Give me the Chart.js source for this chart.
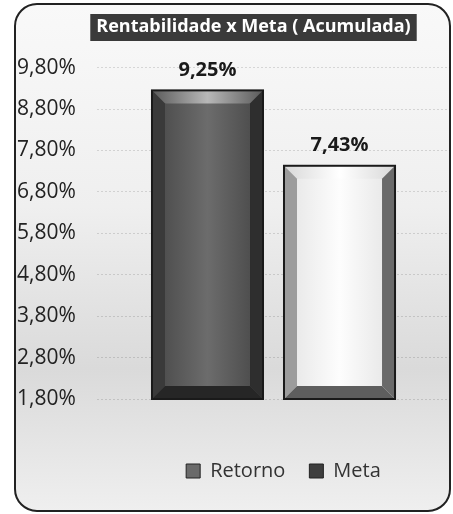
<!DOCTYPE html>
<html>
<head>
<meta charset="utf-8">
<script src="https://cdn.jsdelivr.net/npm/chart.js@4.4.0/dist/chart.umd.min.js"></script>
<style>
  html, body { margin: 0; padding: 0; background: #fff; }
  #wrap { width: 453px; height: 514px; }
</style>
</head>
<body>
<div id="wrap"><canvas id="chart" width="453" height="514"></canvas></div>
<script>
const titleText = 'Rentabilidade x Meta ( Acumulada)';
const categories = [''];
const seriesNames = ['Retorno', 'Meta'];
const retornoValues = [9.25];
const metaValues = [7.43];
const yMin = 1.8;
const yMax = 9.8;
const yStep = 1;

const fmt = v => v.toFixed(2).replace('.', ',') + '%';

// rounded frame + gradient background + dark box behind the title
const framePlugin = {
  id: 'frame',
  afterLayout(chart) {
    // the original centres title and legend a bit right of the canvas centre
    chart.titleBlock.left += 40;
    chart.legend.left += 100;
  },
  beforeDraw(chart) {
    const ctx = chart.ctx;
    const x = 15, y = 4, w = chart.width - 18, h = chart.height - 7, r = 22;
    ctx.save();
    const g = ctx.createLinearGradient(0, y, 0, y + h);
    g.addColorStop(0, '#f9f9f9');
    g.addColorStop(0.4, '#efefef');
    g.addColorStop(0.72, '#dadada');
    g.addColorStop(1, '#efefef');
    ctx.beginPath();
    ctx.roundRect(x, y, w, h, r);
    ctx.fillStyle = g;
    ctx.fill();
    ctx.lineWidth = 2;
    ctx.strokeStyle = '#222';
    ctx.stroke();

    const tb = chart.titleBlock;
    const f = chart.options.plugins.title.font;
    ctx.font = f.weight + ' ' + f.size + 'px "' + f.family + '"';
    const tw = ctx.measureText(titleText).width;
    const cx = (tb.left + tb.right) / 2;
    ctx.fillStyle = '#3a3a3a';
    ctx.fillRect(cx - tw / 2 - 6, tb.top + 14, tw + 12, 27);
    ctx.restore();
  }
};

// bevel faces and value labels drawn from the bar elements
const bevelPlugin = {
  id: 'bevel',
  afterDatasetsDraw(chart) {
    const ctx = chart.ctx;
    chart.data.datasets.forEach((ds, di) => {
      const meta = chart.getDatasetMeta(di);
      meta.data.forEach((bar, i) => {
        const l = bar.x - bar.width / 2, rgt = bar.x + bar.width / 2;
        const t = bar.y, b = Math.min(bar.base, chart.chartArea.bottom), d = 13;
        const dark = di === 0;
        ctx.save();
        // front face
        let g = ctx.createLinearGradient(l, 0, rgt, 0);
        if (dark) { g.addColorStop(0, '#474747'); g.addColorStop(0.5, '#6c6c6c'); g.addColorStop(1, '#464646'); }
        else { g.addColorStop(0, '#e4e4e4'); g.addColorStop(0.5, '#fdfdfd'); g.addColorStop(1, '#e4e4e4'); }
        ctx.fillStyle = g;
        ctx.fillRect(l, t, rgt - l, b - t);
        // top face
        ctx.beginPath();
        ctx.moveTo(l, t); ctx.lineTo(rgt, t); ctx.lineTo(rgt - d, t + d); ctx.lineTo(l + d, t + d); ctx.closePath();
        g = ctx.createLinearGradient(l, 0, rgt, 0);
        if (dark) { g.addColorStop(0, '#5a5a5a'); g.addColorStop(0.5, '#b8b8b8'); g.addColorStop(1, '#5a5a5a'); }
        else { g.addColorStop(0, '#d8d8d8'); g.addColorStop(0.5, '#ffffff'); g.addColorStop(1, '#d8d8d8'); }
        ctx.fillStyle = g; ctx.fill();
        // left face
        ctx.beginPath();
        ctx.moveTo(l, t); ctx.lineTo(l + d, t + d); ctx.lineTo(l + d, b - d); ctx.lineTo(l, b); ctx.closePath();
        ctx.fillStyle = dark ? '#3a3a3a' : '#9c9c9c'; ctx.fill();
        // right face
        ctx.beginPath();
        ctx.moveTo(rgt, t); ctx.lineTo(rgt - d, t + d); ctx.lineTo(rgt - d, b - d); ctx.lineTo(rgt, b); ctx.closePath();
        ctx.fillStyle = dark ? '#2e2e2e' : '#6a6a6a'; ctx.fill();
        // bottom face
        ctx.beginPath();
        ctx.moveTo(l, b); ctx.lineTo(l + d, b - d); ctx.lineTo(rgt - d, b - d); ctx.lineTo(rgt, b); ctx.closePath();
        ctx.fillStyle = dark ? '#262626' : '#5e5e5e'; ctx.fill();
        // outline
        ctx.lineWidth = 2;
        ctx.strokeStyle = '#1a1a1a';
        ctx.strokeRect(l, t, rgt - l, b - t);
        // value label
        ctx.fillStyle = '#1a1a1a';
        ctx.font = 'bold 20px "Open Sans"';
        ctx.textAlign = 'center';
        ctx.textBaseline = 'bottom';
        ctx.fillText(fmt(ds.data[i]), bar.x, t - 10);
        ctx.restore();
      });
    });
  }
};

new Chart(document.getElementById('chart'), {
  type: 'bar',
  data: {
    labels: categories,
    datasets: [
      { label: seriesNames[0], data: retornoValues, backgroundColor: '#5a5a5a', borderWidth: 0 },
      { label: seriesNames[1], data: metaValues, backgroundColor: '#f2f2f2', borderWidth: 0 }
    ]
  },
  plugins: [framePlugin, bevelPlugin],
  options: {
    responsive: false,
    animation: false,
    layout: { padding: { left: 17, right: 3, top: 0, bottom: 23 } },
    datasets: { bar: { categoryPercentage: 0.748, barPercentage: 0.841 } },
    plugins: {
      title: {
        display: true,
        text: titleText,
        color: '#fff',
        font: { family: 'Open Sans', size: 18, weight: 'bold' },
        padding: { top: 16, bottom: 30 }
      },
      legend: {
        position: 'bottom',
        labels: {
          color: '#333',
          font: { family: 'Open Sans', size: 20 },
          boxWidth: 14,
          boxHeight: 14,
          padding: 24,
          generateLabels: (chart) => chart.data.datasets.map((ds, i) => ({
            text: ds.label,
            fillStyle: i === 0 ? '#6a6a6a' : '#3e3e3e',
            strokeStyle: '#222',
            fontColor: '#333',
            lineWidth: 1,
            hidden: false,
            datasetIndex: i
          }))
        }
      },
      tooltip: { enabled: false }
    },
    scales: {
      x: {
        display: true,
        grid: { display: false },
        border: { display: false },
        ticks: { display: false },
        afterFit: s => { s.height = 38; }
      },
      y: {
        min: yMin,
        max: yMax,
        afterFit: s => { s.width = 80; },
        ticks: {
          stepSize: yStep,
          callback: v => fmt(v),
          color: '#222',
          font: { family: 'Open Sans', size: 21 },
          crossAlign: 'far',
          padding: 21
        },
        grid: { color: 'rgba(0,0,0,0.13)', drawTicks: false },
        border: { display: false, dash: [2, 2] }
      }
    }
  }
});
</script>
</body>
</html>
